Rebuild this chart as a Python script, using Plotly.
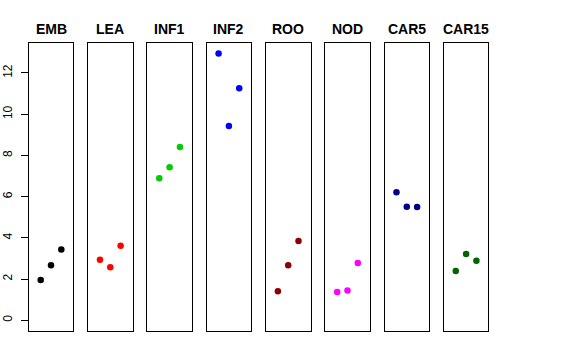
import plotly.graph_objects as go

panels = ["EMB", "LEA", "INF1", "INF2", "ROO", "NOD", "CAR5", "CAR15"]
colors = ["#000000", "#FF0000", "#00CD00", "#0000FF", "#8B0000", "#FF00FF", "#00008B", "#006400"]
x_pos = [1, 2, 3]
EMB = [1.96, 2.67, 3.44]
LEA = [2.94, 2.57, 3.62]
INF1 = [6.89, 7.42, 8.41]
INF2 = [12.94, 9.43, 11.26]
ROO = [1.41, 2.67, 3.85]
NOD = [1.37, 1.44, 2.78]
CAR5 = [6.21, 5.51, 5.50]
CAR15 = [2.39, 3.22, 2.89]
values = [EMB, LEA, INF1, INF2, ROO, NOD, CAR5, CAR15]
y_ticks = [0, 2, 4, 6, 8, 10, 12]

W, H = 576, 360
left0, pw, step = 28.7, 44.6, 59.3
ytop, ybot = 43.3, 331.0

fig = go.Figure()
layout = dict(
    width=W, height=H, margin=dict(l=0, r=0, t=0, b=0),
    paper_bgcolor="white", plot_bgcolor="white", showlegend=False,
    font=dict(family="Liberation Sans, Arial, sans-serif", color="black"),
)
annotations = []
for i, (name, col, vals) in enumerate(zip(panels, colors, values)):
    n = "" if i == 0 else str(i + 1)
    fig.add_trace(go.Scatter(
        x=x_pos, y=vals, mode="markers", xaxis="x" + n, yaxis="y" + n,
        marker=dict(color=col, size=6.5, line=dict(width=0)),
        hoverinfo="skip"))
    x0 = left0 + i * step
    dom = [x0 / W, (x0 + pw) / W]
    layout["xaxis" + n] = dict(
        domain=dom, range=[-0.16, 4.16], showgrid=False, zeroline=False,
        showticklabels=False, ticks="", showline=True, mirror=True,
        linecolor="black", linewidth=1, anchor="y" + n, fixedrange=True)
    yax = dict(
        domain=[1 - ybot / H, 1 - ytop / H], range=[-0.52, 13.44],
        showgrid=False, zeroline=False, showline=True, mirror=True,
        linecolor="black", linewidth=1, anchor="x" + n, fixedrange=True)
    if i == 0:
        yax.update(tickvals=y_ticks, ticktext=[str(t) for t in y_ticks],
                   ticks="outside", ticklen=7, tickcolor="black",
                   tickangle=-90, ticklabelstandoff=4,
                   tickfont=dict(size=12, color="black"))
    else:
        yax.update(showticklabels=False, ticks="")
    layout["yaxis" + n] = yax
    annotations.append(dict(
        text="<b>" + name + "</b>", x=(x0 + pw / 2) / W, y=1 - 29 / H,
        xref="paper", yref="paper", showarrow=False,
        font=dict(size=14, color="black"), xanchor="center", yanchor="middle"))
layout["annotations"] = annotations
fig.update_layout(**layout)
fig.write_html("out.html", config={"displayModeBar": False},
               post_script="document.body.style.margin='0';document.body.style.padding='0';")
